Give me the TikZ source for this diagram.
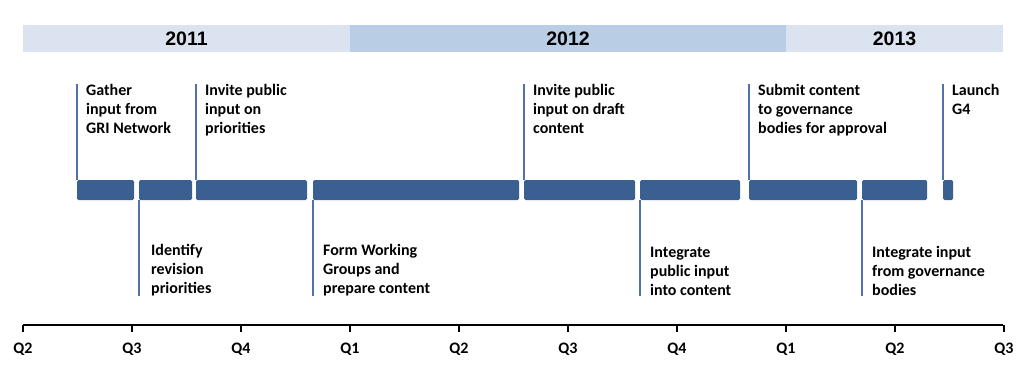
\documentclass[tikz,border=0pt]{standalone}
\usepackage{fontspec}
\setmainfont{Carlito}
\newfontfamily\yearfont{Liberation Sans}
\usetikzlibrary{calc}

\definecolor{barblue}{RGB}{58,96,146}
\definecolor{stemblue}{RGB}{80,114,168}
\definecolor{yearlight}{RGB}{220,227,240}
\definecolor{yeardark}{RGB}{185,205,228}

\tikzset{
  bar/.style={fill=barblue, rounded corners=1.5pt, inner sep=0pt, outer sep=0pt, minimum height=20pt},
  stem/.style={stemblue, line width=1.2pt},
  note/.style={inner sep=0pt, align=left, font=\fontsize{16}{19}\selectfont\bfseries},
  yearbox/.style={inner sep=0pt, outer sep=0pt, minimum height=27pt, font=\yearfont\fontsize{19.5}{20}\selectfont\bfseries},
  qlabel/.style={inner sep=0pt, font=\fontsize{16}{18}\selectfont\bfseries},
}

\begin{document}
\begin{tikzpicture}[x=1pt,y=-1pt]
\useasboundingbox (0,0) rectangle (1035,381);

%line info
\def\bartop{180}
\def\axisy{325}
\def\qw{109}

%year band
\node[yearbox, fill=yearlight, minimum width=327pt, anchor=north west] (y2011) at (23,25)  {2011};
\node[yearbox, fill=yeardark,  minimum width=436pt, anchor=north west] (y2012) at (350,25) {2012};
\node[yearbox, fill=yearlight, minimum width=217pt, anchor=north west] (y2013) at (786,25) {2013};

%bars
\foreach \i/\a/\b in {1/77/134,2/139/192,3/196/307,4/313/519,5/524/635,6/640/740,7/749/857,8/862/927,9/943/953}{
    \node[bar, minimum width={(\b-\a)*1pt}, anchor=north west] (bar\i) at (\a,\bartop) {};
}

%notes above
\node[note, anchor=north west] (gather) at ($(bar1.north west)+(9,-96)$) {Gather\\input from\\GRI Network};
\node[note, anchor=north west] (invite) at ($(bar3.north west)+(9,-96)$) {Invite public\\input on\\priorities};
\node[note, anchor=north west] (draft)  at ($(bar5.north west)+(9,-96)$) {Invite public\\input on draft\\content};
\node[note, anchor=north west] (submit) at ($(bar7.north west)+(9,-96)$) {Submit content\\to governance\\bodies for approval};
\node[note, anchor=north west] (launch) at ($(bar9.north west)+(9,-96)$) {Launch\\G4};
%notes below
\node[note, anchor=south west] (ident)  at ($(bar2.south west)+(12,96)$) {Identify\\revision\\priorities};
\node[note, anchor=south west] (form)   at ($(bar4.south west)+(10,96)$) {Form Working\\Groups and\\prepare content};
\node[note, anchor=south west] (integ)  at ($(bar6.south west)+(10,96)$) {Integrate\\public input\\into content};
\node[note, anchor=south west] (govern) at ($(bar8.south west)+(10,96)$) {Integrate input\\from governance\\bodies};

%stems
\foreach \b/\t in {bar1/gather,bar3/invite,bar5/draft,bar7/submit,bar9/launch}{
    \draw[stem] (\b.north west) -- (\b.north west |- \t.north);
}
\foreach \b/\t in {bar2/ident,bar4/form,bar6/integ,bar8/govern}{
    \draw[stem] (\b.south west) -- (\b.south west |- \t.south);
}

%axis
\coordinate (A0) at (23,\axisy);
\coordinate (A1) at (1003,\axisy);
\draw[line width=2pt] (A0) -- (A1);
\foreach \k/\q in {0/Q2,1/Q3,2/Q4,3/Q1,4/Q2,5/Q3,6/Q4,7/Q1,8/Q2,9/Q3}{
    \draw[line width=1.5pt] ($(A0)+(\k*\qw,0)$) -- ++(0,7);
    \node[qlabel] (q\k) at ($(A0)+(\k*\qw,24)$) {\q};
}

\end{tikzpicture}
\end{document}
